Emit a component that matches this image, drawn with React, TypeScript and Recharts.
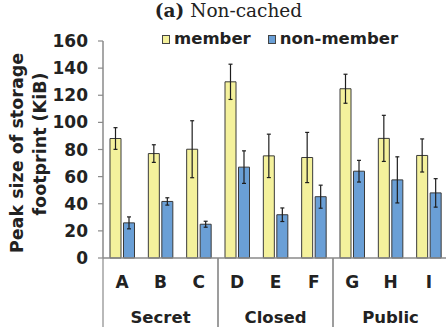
import React from 'react';
import { BarChart, Bar, XAxis, YAxis, ErrorBar, Legend } from 'recharts';

const categories = ['A', 'B', 'C', 'D', 'E', 'F', 'G', 'H', 'I'];
const groups = ['Secret', 'Closed', 'Public'];
const groupSize = 3;
const memberValues = [88.1, 77, 80.2, 129.9, 75.3, 74.1, 124.8, 88.2, 75.6];
const memberErrors = [8, 6.5, 21, 13, 16, 18.5, 10.7, 17, 12.2];
const nonMemberValues = [25.9, 41.7, 24.9, 67, 31.9, 45.2, 64, 57.6, 48];
const nonMemberErrors = [4.4, 2.7, 2.2, 12, 5, 8.5, 8, 17, 10.5];
const yTicks = [0, 20, 40, 60, 80, 100, 120, 140, 160];
const seriesNames = ['member', 'non-member'];
const titleBold = '(a)';
const titleRest = ' Non-cached';
const yLabelLines = ['Peak size of storage', 'footprint (KiB)'];

const data = categories.map((c, i) => ({
  cat: c,
  group: groups[Math.floor(i / groupSize)],
  member: memberValues[i],
  memberErr: memberErrors[i],
  nonMember: nonMemberValues[i],
  nonMemberErr: nonMemberErrors[i],
}));

const SANS = 'DejaVu Sans';
const TEXT = '#222';
const AXIS = '#8a8a8a';

const CatTick = (props: any) => {
  const { x, y, payload } = props;
  return (
    <text x={x} y={y + 30} textAnchor="middle" fontFamily={SANS} fontWeight="bold" fontSize={17} fill={TEXT}>
      {payload.value}
    </text>
  );
};

const GroupTick = (props: any) => {
  const { x, y, payload } = props;
  const i = props.index ?? payload.index ?? 0;
  const half = payload && payload.offset ? payload.offset : 345 / 18;
  const pos = i % groupSize;
  return (
    <g>
      {pos === 0 && <line x1={x - half} x2={x - half} y1={y - 40} y2={y + 29} stroke={AXIS} strokeWidth={1.2} />}
      {pos === groupSize - 1 && <line x1={x + half} x2={x + half} y1={y - 40} y2={y + 29} stroke={AXIS} strokeWidth={1.2} />}
      {pos === 1 && (
        <text x={x} y={y + 25} textAnchor="middle" fontFamily={SANS} fontWeight="bold" fontSize={16.5} fill={TEXT}>
          {groups[Math.floor(i / groupSize)]}
        </text>
      )}
    </g>
  );
};

const YLabel = () => (
  <g fontFamily={SANS} fontWeight="bold" fontSize={17.5} fill={TEXT}>
    <text x={22.5} y={153} transform="rotate(-90 22.5 153)" textAnchor="middle">{yLabelLines[0]}</text>
    <text x={45.5} y={144} transform="rotate(-90 45.5 144)" textAnchor="middle">{yLabelLines[1]}</text>
  </g>
);

const renderLegend = (props: any) => (
  <div
    style={{
      display: 'flex',
      alignItems: 'center',
      fontFamily: SANS,
      fontWeight: 'bold',
      fontSize: 16.5,
      color: TEXT,
      lineHeight: '18px',
      whiteSpace: 'nowrap',
    }}
  >
    {(props.payload || []).map((e: any, i: number) => (
      <div key={i} style={{ display: 'flex', alignItems: 'center', marginRight: 17 }}>
        <span
          style={{
            display: 'inline-block',
            width: 6,
            height: 7,
            border: '1px solid #444',
            background: e.color,
            marginRight: 4,
          }}
        />
        <span>{e.value}</span>
      </div>
    ))}
  </div>
);

export default function App() {
  return (
    <div style={{ position: 'absolute', left: 0, top: 0, width: 446, height: 333, overflow: 'hidden', background: '#fff' }}>
      <BarChart
        width={448}
        height={333}
        data={data}
        margin={{ top: 41, right: 0, bottom: 0, left: 0 }}
        barSize={11}
        barGap={2.5}
      >
        <YAxis
          width={103}
          domain={[0, 160]}
          ticks={yTicks}
          interval={0}
          tickSize={5}
          tickMargin={10}
          axisLine={{ stroke: AXIS, strokeWidth: 1.5 }}
          tickLine={{ stroke: AXIS, strokeWidth: 1.2 }}
          tick={{ fill: TEXT, fontSize: 17, fontWeight: 'bold', fontFamily: SANS }}
          label={<YLabel />}
        />
        <XAxis
          dataKey="cat"
          height={40}
          interval={0}
          tickLine={false}
          tickSize={0}
          tickMargin={0}
          axisLine={{ stroke: AXIS, strokeWidth: 1.5 }}
          tick={<CatTick />}
        />
        <XAxis
          xAxisId="grp"
          dataKey="cat"
          height={35}
          interval={0}
          tickLine={false}
          axisLine={false}
          tickSize={0}
          tickMargin={0}
          tick={<GroupTick />}
        />
        <Legend
          verticalAlign="middle"
          align="center"
          layout="horizontal"
          wrapperStyle={{ top: 30, left: 162, width: 'auto' }}
          content={renderLegend}
        />
        <Bar dataKey="member" name={seriesNames[0]} fill="#F4F19C" stroke="#3a3a3a" strokeWidth={1} isAnimationActive={false}>
          <ErrorBar dataKey="memberErr" width={2} stroke="#1e1e1e" strokeWidth={1.2} />
        </Bar>
        <Bar dataKey="nonMember" name={seriesNames[1]} fill="#6A9FD6" stroke="#3a3a3a" strokeWidth={1} isAnimationActive={false}>
          <ErrorBar dataKey="nonMemberErr" width={2} stroke="#1e1e1e" strokeWidth={1.2} />
        </Bar>
      </BarChart>
      <div
        style={{
          position: 'absolute',
          left: 0,
          top: 0,
          width: 457,
          textAlign: 'center',
          fontFamily: 'DejaVu Serif',
          fontSize: 18.5,
          lineHeight: '22px',
          color: TEXT,
        }}
      >
        <b>{titleBold}</b>
        {titleRest}
      </div>
    </div>
  );
}
